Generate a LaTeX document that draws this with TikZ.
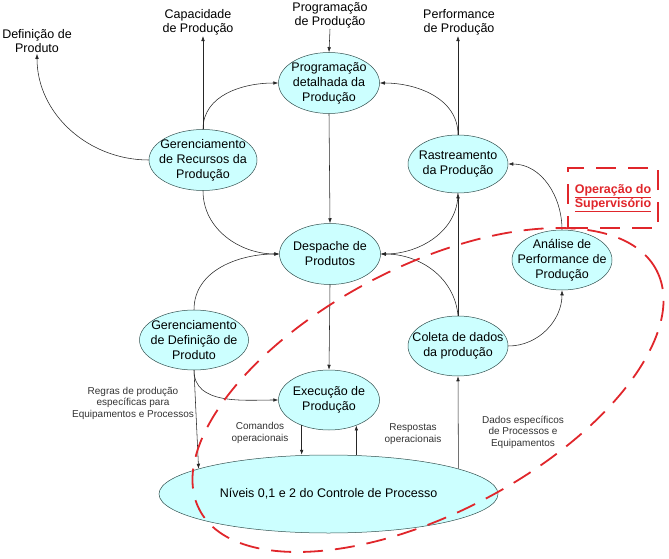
\documentclass[tikz,border=0pt]{standalone}
\usepackage{fontspec}
\setmainfont{Liberation Sans}
\usepackage{xcolor}
\usepackage{tikz}
\usetikzlibrary{arrows.meta,shapes.geometric}
\definecolor{actfill}{HTML}{CCFFFF}
\definecolor{actedge}{HTML}{33504F}
\definecolor{supred}{HTML}{E0262B}

\begin{document}
\begin{tikzpicture}[x=1pt,y=-1pt,
  act/.style={ellipse,draw=actedge,fill=actfill,line width=0.5pt,inner sep=0pt},
  txt/.style={align=center,inner sep=0pt,font=\fontsize{12.5}{15}\selectfont},
  ext/.style={align=center,inner sep=1pt,font=\fontsize{12.5}{14}\selectfont},
  note/.style={align=center,inner sep=1pt,text=black!80,font=\fontsize{10}{11.5}\selectfont},
  arr/.style={-{Latex[length=5pt,width=3.6pt]},line width=0.55pt,black!85},
  redline/.style={supred,line width=1.8pt,dash pattern=on 20pt off 12pt}]
  \useasboundingbox (0,0) rectangle (669,559);
  % Activities
  \node[act,minimum width=101pt,minimum height=61pt] (prog) at (329,83) {};
  \node[act,minimum width=108pt,minimum height=61pt] (grp) at (203,160) {};
  \node[act,minimum width=100pt,minimum height=58pt] (rast) at (458,164) {};
  \node[act,minimum width=101pt,minimum height=61pt] (desp) at (330,254) {};
  \node[act,minimum width=100pt,minimum height=60pt] (anal) at (562,260) {};
  \node[act,minimum width=109pt,minimum height=60pt] (gdp) at (194,340) {};
  \node[act,minimum width=100pt,minimum height=60pt] (colet) at (458,346) {};
  \node[act,minimum width=101pt,minimum height=60pt] (exec) at (329,400) {};
  \node[act,minimum width=339pt,minimum height=78pt] (niv) at (328.5,494) {};
  \node[txt] (prog-t) at (prog) {Programação\\detalhada da\\Produção};
  \node[txt] (grp-t) at (grp) {Gerenciamento\\de Recursos da\\Produção};
  \node[txt] (rast-t) at (rast) {Rastreamento\\da Produção};
  \node[txt] (desp-t) at (desp) {Despache de\\Produtos};
  \node[txt] (anal-t) at (anal) {Análise de\\Performance de\\Produção};
  \node[txt] (gdp-t) at (gdp) {Gerenciamento\\de Definição de\\Produto};
  \node[txt] (colet-t) at (colet) {Coleta de dados\\da produção};
  \node[txt] (exec-t) at (exec) {Execução de\\Produção};
  \node[txt] (niv-t) at (niv) {Níveis 0,1 e 2 do Controle de Processo};
  % Outer information
  \node[ext] (def) at (37,41) {Definição de\\Produto};
  \node[ext] (cap) at (198,22) {Capacidade\\de Produção};
  \node[ext] (progin) at (330,15) {Programação\\de Produção};
  \node[ext] (perf) at (459,22) {Performance\\de Produção};
  % Flows
  \draw[arr] (progin.south) -- (prog.north);
  \draw[arr] (grp.west) to[out=180,in=-90] (def.south);
  \draw[arr] (grp.north) -- (grp.north |- cap.south);
  \draw[arr] (grp.north) to[out=90,in=180] (prog.west);
  \draw[arr] (grp.south) to[out=-90,in=180] (desp.west);
  \draw[arr] (gdp.north) to[out=90,in=180] (desp.west);
  \draw[arr] (prog.south) -- (desp.north);
  \draw[arr] (desp.south) -- (exec.north);
  \draw[arr] (rast.north) -- (rast.north |- perf.south);
  \draw[arr] (rast.north) to[out=90,in=0] (prog.east);
  \draw[arr] (rast.south) to[out=-90,in=0] (desp.east);
  \draw[arr] (colet.north) to[out=95,in=0] (desp.east);
  \draw[arr] (colet.north) -- (rast.south);
  \draw[arr,{Latex[length=5pt,width=3.6pt]}-] (rast.east) to[out=0,in=90] (anal.north);
  \draw[arr] (colet.east) to[out=0,in=-90] (anal.south);
  \draw[arr] (gdp.south) to[out=-90,in=180] (exec.west);
  \draw[arr] (gdp.south) -- (niv.169);
  \draw[arr] (exec.223) -- (exec.223 |- niv.north);
  \draw[arr] (exec.317 |- niv.north) -- (exec.317);
  \draw[arr] (niv.11) -- (colet.south);
  % Flow labels
  \node[note] (regras) at (133,403) {Regras de produção\\específicas para\\Equipamentos e Processos};
  \node[note] (coman) at (260,433) {Comandos\\operacionais};
  \node[note] (resp) at (413,434) {Respostas\\operacionais};
  \node[note] (dados) at (523,432) {Dados específicos\\de Processos e\\Equipamentos};
  % Supervisory scope
  \draw[redline,rotate around={27.7:(428,390)}] (428,390) ellipse (258 and 123);
  \node[draw=supred,line width=1.8pt,dash pattern=on 20pt off 12pt,minimum width=90pt,minimum height=60pt,
    align=center,text=supred,font=\fontsize{12.5}{14}\selectfont\bfseries] (oper) at (613,198)
    {\underline{Operação do}\\\underline{Supervisório}};
\end{tikzpicture}
\end{document}
